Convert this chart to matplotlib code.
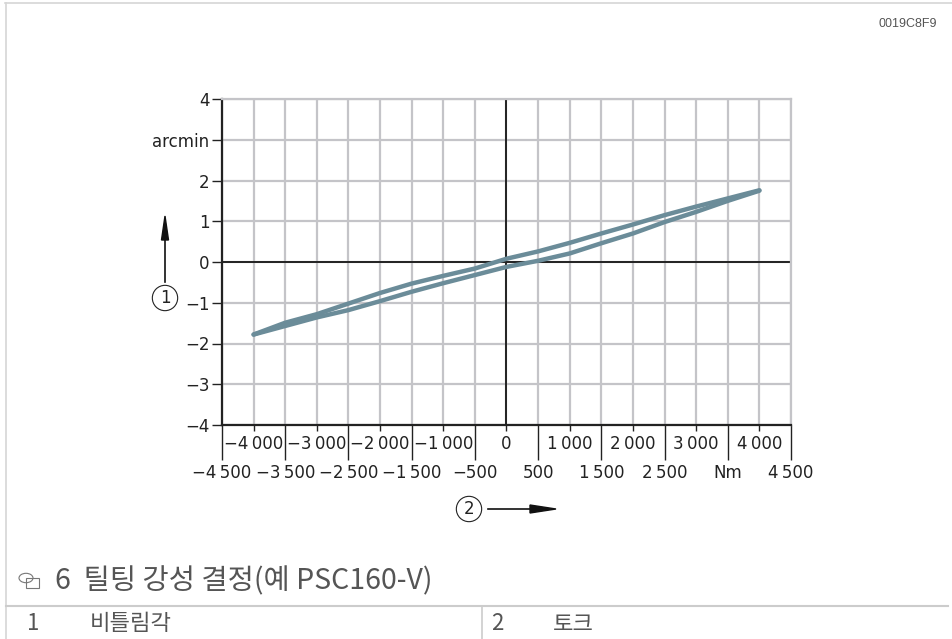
import matplotlib
matplotlib.use('Agg')
import matplotlib.pyplot as plt
from matplotlib.patches import Circle, Rectangle
from matplotlib.lines import Line2D

# hysteresis loop
torque_up = [-4000, -3500, -3000, -2500, -2000, -1500, -1000, -500, 0,
             500, 1000, 1500, 2000, 2500, 3000, 3500, 4000]
angle_up = [-1.78, -1.57, -1.36, -1.18, -0.96, -0.73, -0.52, -0.32, -0.12,
            0.03, 0.21, 0.46, 0.70, 0.98, 1.23, 1.50, 1.75]
torque_down = [4000, 3500, 3000, 2500, 2000, 1500, 1000, 500, 0,
               -500, -1000, -1500, -2000, -2500, -3000, -3500, -4000]
angle_down = [1.76, 1.56, 1.36, 1.15, 0.92, 0.70, 0.47, 0.26, 0.08,
              -0.16, -0.34, -0.53, -0.76, -1.02, -1.28, -1.49, -1.78]

y_ticks = [4, 3, 2, 1, 0, -1, -2, -3, -4]
y_labels = ['4', 'arcmin', '2', '1', '0', '\u22121', '\u22122', '\u22123', '\u22124']
x_major = [-4000, -3000, -2000, -1000, 0, 1000, 2000, 3000, 4000]
x_major_labels = ['\u22124\u2009000', '\u22123\u2009000', '\u22122\u2009000', '\u22121\u2009000', '0',
                  '1\u2009000', '2\u2009000', '3\u2009000', '4\u2009000']
x_minor = [-4500, -3500, -2500, -1500, -500, 500, 1500, 2500, 3500, 4500]
x_minor_labels = ['\u22124\u2009500', '\u22123\u2009500', '\u22122\u2009500', '\u22121\u2009500', '\u2212500',
                  '500', '1\u2009500', '2\u2009500', 'Nm', '4\u2009500']

caption = '6  틸팅 강성 결정(예 PSC160-V)'
legend_rows = [('1', '비틀림각', 27, 90), ('2', '토크', 491, 553)]

W, H = 953, 639
LINE_COLOR = '#6b8c99'
GRID_COLOR = '#c4c4c8'
TEXT_COLOR = '#222222'
NOTE_COLOR = '#555555'
KR_FONT = ['Noto Sans CJK KR', 'DejaVu Sans']

plt.rcParams['font.family'] = ['DejaVu Sans']
fig = plt.figure(figsize=(W / 100, H / 100), dpi=100)

def fx(px):
    return px / W

def fy(py):
    return 1 - py / H

ax = fig.add_axes([fx(222), fy(425), fx(791) - fx(222), fy(99) - fy(425)])
ax.set_xlim(-4500, 4500)
ax.set_ylim(-4, 4)

for v in range(-4500, 4501, 500):
    ax.axvline(v, color=GRID_COLOR, lw=1.6, zorder=1)
for v in range(-4, 5):
    ax.axhline(v, color=GRID_COLOR, lw=1.6, zorder=1)
ax.axvline(0, color='#222222', lw=1.4, zorder=2)
ax.axhline(0, color='#222222', lw=1.4, zorder=2)

ax.plot(torque_up, angle_up, color=LINE_COLOR, lw=3.2, solid_capstyle='round', zorder=3)
ax.plot(torque_down, angle_down, color=LINE_COLOR, lw=3.2, solid_capstyle='round', zorder=3)

for s in ['top', 'right']:
    ax.spines[s].set_color(GRID_COLOR)
    ax.spines[s].set_linewidth(1.6)
for s in ['left', 'bottom']:
    ax.spines[s].set_color('#222222')
    ax.spines[s].set_linewidth(1.6)

ax.set_yticks(y_ticks)
ax.set_yticklabels(y_labels)
ax.set_xticks(x_major)
ax.set_xticklabels(x_major_labels)
ax.set_xticks(x_minor, minor=True)
ax.set_xticklabels(x_minor_labels, minor=True)

ax.tick_params(axis='y', length=7, width=1, color='#222222', pad=2,
               labelsize=12, labelcolor=TEXT_COLOR)
ax.tick_params(axis='x', which='major', length=4, width=1, color='#222222', pad=3,
               labelsize=12, labelcolor=TEXT_COLOR)
ax.tick_params(axis='x', which='minor', length=25, width=1, color='#222222', pad=3,
               labelsize=12, labelcolor=TEXT_COLOR)

# axis arrows with circled numbers
fig.add_artist(Line2D([fx(165), fx(165)], [fy(282), fy(234)], color='#111111', lw=1.2))
fig.patches.append(plt.Polygon([[fx(165), fy(216)], [fx(161.5), fy(240)], [fx(168.5), fy(240)]],
                               closed=True, color='#111111', transform=fig.transFigure, figure=fig))
fig.text(fx(165), fy(298), '1', ha='center', va='center', fontsize=12, color=TEXT_COLOR,
         bbox=dict(boxstyle='circle,pad=0.22', fc='none', ec='#222222', lw=0.8))

fig.add_artist(Line2D([fx(488), fx(534)], [fy(509), fy(509)], color='#111111', lw=1.2))
fig.patches.append(plt.Polygon([[fx(556), fy(509)], [fx(530), fy(505)], [fx(530), fy(513)]],
                               closed=True, color='#111111', transform=fig.transFigure, figure=fig))
fig.text(fx(469), fy(509), '2', ha='center', va='center', fontsize=12, color=TEXT_COLOR,
         bbox=dict(boxstyle='circle,pad=0.22', fc='none', ec='#222222', lw=0.8))

# page frame
fig.add_artist(Line2D([fx(5), fx(953)], [fy(3), fy(3)], color='#d6d6d6', lw=1.2))
fig.add_artist(Line2D([fx(6), fx(6)], [fy(3), fy(639)], color='#d6d6d6', lw=1.2))
fig.text(fx(937), fy(24), '0019C8F9', ha='right', va='center', fontsize=9,
         color=NOTE_COLOR, family=['Liberation Sans', 'DejaVu Sans'])

# caption with figure icon
fig.add_artist(Circle((fx(26), fy(578)), 7 / W, transform=fig.transFigure,
                      fill=False, ec='#777777', lw=0.8))
fig.add_artist(Rectangle((fx(26), fy(588)), 13 / W, 10 / H, transform=fig.transFigure,
                         fill=False, ec='#777777', lw=0.8))
fig.text(fx(55), fy(581), caption, ha='left', va='center', fontsize=20.5,
         color=NOTE_COLOR, family=KR_FONT)

fig.add_artist(Line2D([fx(6), fx(948)], [fy(606), fy(606)], color='#cccccc', lw=1.5))
fig.add_artist(Line2D([fx(482), fx(482)], [fy(606), fy(639)], color='#cccccc', lw=1.2))
for num, txt, x_num, x_txt in legend_rows:
    fig.text(fx(x_num), fy(624), num, ha='left', va='center', fontsize=16,
             color=NOTE_COLOR, family=KR_FONT)
    fig.text(fx(x_txt), fy(624), txt, ha='left', va='center', fontsize=16,
             color=NOTE_COLOR, family=KR_FONT)

fig.savefig('out.png', dpi=100)
